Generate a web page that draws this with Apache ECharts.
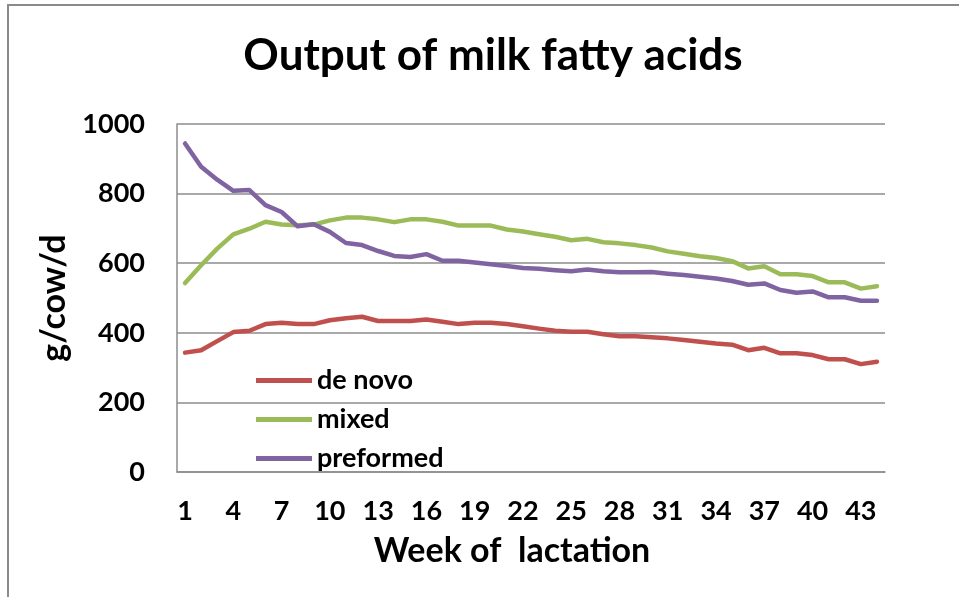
<!DOCTYPE html>
<html>
<head>
<meta charset="utf-8">
<script src="https://cdn.jsdelivr.net/npm/echarts@6/dist/echarts.min.js"></script>
<style>
  html, body { margin: 0; padding: 0; background: #fff; }
  #chart { width: 959px; height: 597px; }
</style>
</head>
<body>
<div id="chart"></div>
<script>
// Week of lactation (1..44)
const weeks = [1,2,3,4,5,6,7,8,9,10,11,12,13,14,15,16,17,18,19,20,21,22,
               23,24,25,26,27,28,29,30,31,32,33,34,35,36,37,38,39,40,41,42,43,44];

// Fatty acid output, g/cow/d
const deNovo = [343,350,376,402,406,425,429,425,425,436,442,446,434,434,434,438,432,425,429,429,425,419,
                412,406,403,403,396,390,390,387,384,379,374,369,366,350,357,341,341,336,324,324,310,317];
const mixed = [543,594,642,683,699,719,711,709,711,723,731,731,726,718,726,726,719,708,708,708,697,691,
               683,676,666,670,660,657,652,645,634,627,620,615,606,585,591,568,568,563,545,545,527,534];
const preformed = [944,877,840,808,810,767,747,706,712,690,658,652,635,621,618,626,607,607,602,597,592,586,
                   584,580,577,582,577,574,574,575,570,566,561,556,549,538,542,523,515,519,502,502,492,492];

const yTicks = { min: 0, max: 1000, step: 200 };

const fontFamily = 'Lato, "Open Sans", sans-serif';
const textColor = '#000';
const gridColor = '#8c8c8c';

const chart = echarts.init(document.getElementById('chart'));

function lineSeries(name, data, color) {
  return {
    name: name,
    type: 'line',
    data: data,
    showSymbol: false,
    symbol: 'none',
    smooth: false,
    lineStyle: { color: color, width: 4.5, join: 'round', cap: 'round' },
    itemStyle: { color: color },
    emphasis: { disabled: true },
    animation: false
  };
}

chart.setOption({
  animation: false,
  backgroundColor: '#fff',
  title: {
    text: 'Output of milk fatty acids',
    left: 488,
    top: 29,
    textAlign: 'center',
    textStyle: { fontFamily: fontFamily, fontWeight: 'bold', fontSize: 44, color: textColor }
  },
  graphic: [{
    type: 'rect',
    shape: { x: 8, y: 5, width: 1200, height: 800 },
    style: { fill: 'none', stroke: '#8a8a8a', lineWidth: 2 },
    silent: true
  }],
  grid: { left: 177, right: 74, top: 124, bottom: 125 },
  legend: {
    orient: 'vertical',
    left: 251,
    top: 362,
    icon: 'rect',
    itemWidth: 56,
    itemHeight: 5,
    itemGap: 12,
    textStyle: { fontFamily: fontFamily, fontWeight: 'bold', fontSize: 27, color: textColor, lineHeight: 25 },
    data: ['de novo', 'mixed', 'preformed']
  },
  xAxis: {
    type: 'category',
    data: weeks,
    boundaryGap: true,
    name: 'Week of  lactation',
    nameLocation: 'middle',
    nameGap: 62,
    nameTextStyle: {
      fontFamily: fontFamily, fontWeight: 'bold', fontSize: 34, color: textColor,
      padding: [0, 38, 0, 0]
    },
    axisLine: { lineStyle: { color: gridColor, width: 1.5 } },
    axisTick: { show: false },
    axisLabel: {
      interval: 2,
      margin: 26,
      fontFamily: fontFamily, fontWeight: 'bold', fontSize: 27, color: textColor
    },
    splitLine: { show: false }
  },
  yAxis: {
    type: 'value',
    min: yTicks.min,
    max: yTicks.max,
    interval: yTicks.step,
    name: 'g/cow/d',
    nameLocation: 'middle',
    nameGap: 106,
    nameRotate: 90,
    nameTextStyle: { fontFamily: fontFamily, fontWeight: 'bold', fontSize: 34, color: textColor },
    axisLine: { show: true, lineStyle: { color: gridColor, width: 1.5 } },
    axisTick: { show: false },
    axisLabel: {
      margin: 32,
      formatter: function (v) { return String(v); },
      fontFamily: fontFamily, fontWeight: 'bold', fontSize: 27, color: textColor
    },
    splitLine: { show: true, lineStyle: { color: gridColor, width: 1.5 } }
  },
  series: [
    lineSeries('de novo', deNovo, '#C0504D'),
    lineSeries('mixed', mixed, '#9BBB59'),
    lineSeries('preformed', preformed, '#8064A2')
  ]
});
</script>
</body>
</html>
